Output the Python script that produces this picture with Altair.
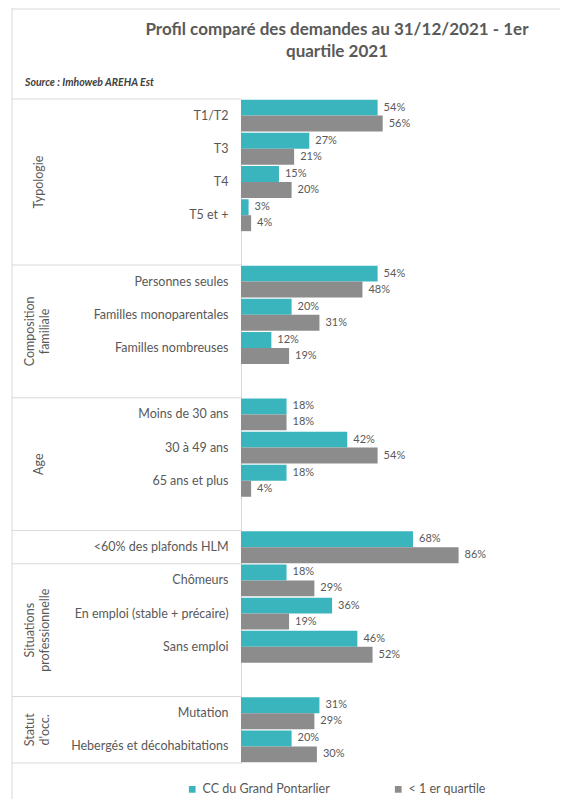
import altair as alt
import pandas as pd

# ---- data ----
title_lines = ["Profil comparé des demandes au 31/12/2021 - 1er", "quartile 2021"]
source_text = ["Source : Imhoweb AREHA Est"]
slots = ["T1/T2", "T3", "T4", "T5 et +", " ",
         "Personnes seules", "Familles monoparentales", "Familles nombreuses", "  ",
         "Moins de 30 ans", "30 à 49 ans", "65 ans et plus", "   ",
         "<60% des plafonds HLM",
         "Chômeurs", "En emploi (stable + précaire)", "Sans emploi", "    ",
         "Mutation", "Hebergés et décohabitations"]
categories = [s for s in slots if s.strip()]
series = ["CC du Grand Pontarlier", "< 1 er quartile"]
cc_values = [54, 27, 15, 3, 54, 20, 12, 18, 42, 18, 68, 18, 36, 46, 31, 20]
q1_values = [56, 21, 20, 4, 48, 31, 19, 18, 54, 4, 86, 29, 19, 52, 29, 30]
colors = ["#3AB5BE", "#8C8C8C"]

group_starts = ["T1/T2", "Personnes seules", "Moins de 30 ans", "<60% des plafonds HLM",
                "Chômeurs", "Mutation"]
last_slot = ["Hebergés et décohabitations"]

rows = []
for c, a, b in zip(categories, cc_values, q1_values):
    rows.append({"slot": c, "series": series[0], "value": a, "label": f"{a}%"})
    rows.append({"slot": c, "series": series[1], "value": b, "label": f"{b}%"})
df = pd.DataFrame(rows)

FONT = "Lato"
TXT = "#595959"
LINE = "#d9d9d9"

yscale = alt.Scale(domain=slots, paddingInner=0, paddingOuter=0)
xscale = alt.Scale(domain=[0, 100])
oscale = alt.Scale(domain=series, paddingInner=0, paddingOuter=0.04)
cscale = alt.Scale(domain=series, range=colors)

base = alt.Chart(df)

bars = base.mark_bar().encode(
    y=alt.Y("slot:N", scale=yscale, sort=slots, title=None,
            axis=alt.Axis(ticks=False, domainColor=LINE, labelFont=FONT, labelFontSize=12.5,
                          labelColor=TXT, labelPadding=13, labelLimit=230)),
    yOffset=alt.YOffset("series:N", scale=oscale, sort=series),
    x=alt.X("value:Q", scale=xscale, axis=None),
    color=alt.Color("series:N", scale=cscale, sort=series, title=None,
                    legend=alt.Legend(orient="none", legendX=-55, legendY=684,
                                      direction="horizontal", symbolType="square",
                                      symbolSize=45, labelFont=FONT, labelFontSize=12.5,
                                      labelColor=TXT, columnPadding=62, symbolStrokeWidth=0)),
)

labels = base.mark_text(align="left", baseline="middle", dx=6, font=FONT,
                        fontSize=11, color=TXT).encode(
    y=alt.Y("slot:N", scale=yscale, sort=slots),
    yOffset=alt.YOffset("series:N", scale=oscale, sort=series),
    x=alt.X("value:Q", scale=xscale),
    text="label:N",
)

div_top = alt.Chart(pd.DataFrame({"slot": group_starts})).mark_rule(
    color=LINE, strokeWidth=1).encode(
    y=alt.Y("slot:N", scale=yscale, bandPosition=0),
    x=alt.value(-229), x2=alt.value(0),
)
div_bottom = alt.Chart(pd.DataFrame({"slot": last_slot})).mark_rule(
    color=LINE, strokeWidth=1).encode(
    y=alt.Y("slot:N", scale=yscale, bandPosition=1),
    x=alt.value(-229), x2=alt.value(0),
)

grp_typo = alt.Chart(pd.DataFrame({"slot": ["T4"], "g": ["Typologie"]})).mark_text(
    angle=270, align="center", baseline="middle", font=FONT, fontSize=12.5, color=TXT).encode(
    y=alt.Y("slot:N", scale=yscale, bandPosition=0.5),
    x=alt.value(-202), text="g:N",
)
grp_age = alt.Chart(pd.DataFrame({"slot": ["65 ans et plus"], "g": ["Age"]})).mark_text(
    angle=270, align="center", baseline="middle", font=FONT, fontSize=12.5, color=TXT).encode(
    y=alt.Y("slot:N", scale=yscale, bandPosition=0),
    x=alt.value(-202), text="g:N",
)
grp_two = alt.Chart(pd.DataFrame({
    "slot": ["Familles nombreuses", "Sans emploi", "Hebergés et décohabitations"],
    "g": ["Composition\nfamiliale", "Situations\nprofessionnelle", "Statut\nd'occ."]})).mark_text(
    angle=270, align="center", baseline="middle", font=FONT, fontSize=12.5, color=TXT,
    lineBreak="\n", lineHeight=15).encode(
    y=alt.Y("slot:N", scale=yscale, bandPosition=0),
    x=alt.value(-211), text="g:N",
)

frame_left = alt.Chart(pd.DataFrame({"a": [0]})).mark_rule(color=LINE, strokeWidth=1).encode(
    x=alt.value(-229), y=alt.value(-91), y2=alt.value(701))
frame_top = alt.Chart(pd.DataFrame({"a": [0]})).mark_rule(color=LINE, strokeWidth=1).encode(
    x=alt.value(-229), x2=alt.value(319), y=alt.value(-90))

title = alt.Chart(pd.DataFrame({"t": ["\n".join(title_lines)]})).mark_text(
    align="center", baseline="top", font=FONT, fontSize=17, fontWeight="bold",
    color=TXT, lineBreak="\n", lineHeight=22).encode(
    x=alt.value(96), y=alt.value(-77), text="t:N")

source = alt.Chart(pd.DataFrame({"t": source_text})).mark_text(
    align="left", baseline="middle", font=FONT, fontSize=10.5, fontStyle="italic",
    fontWeight="bold", color="#404040").encode(
    x=alt.value(-216), y=alt.value(-16), text="t:N")

chart = alt.layer(
    frame_left, frame_top, div_top, div_bottom, bars, labels,
    grp_typo, grp_age, grp_two, title, source,
).properties(
    width=253, height=664,
    autosize=alt.AutoSizeParams(type="none"),
    padding={"left": 233, "top": 91, "right": 66, "bottom": 36},
).configure_view(stroke=None)

chart.save("out.html", embed_options={"renderer": "svg", "actions": False})
